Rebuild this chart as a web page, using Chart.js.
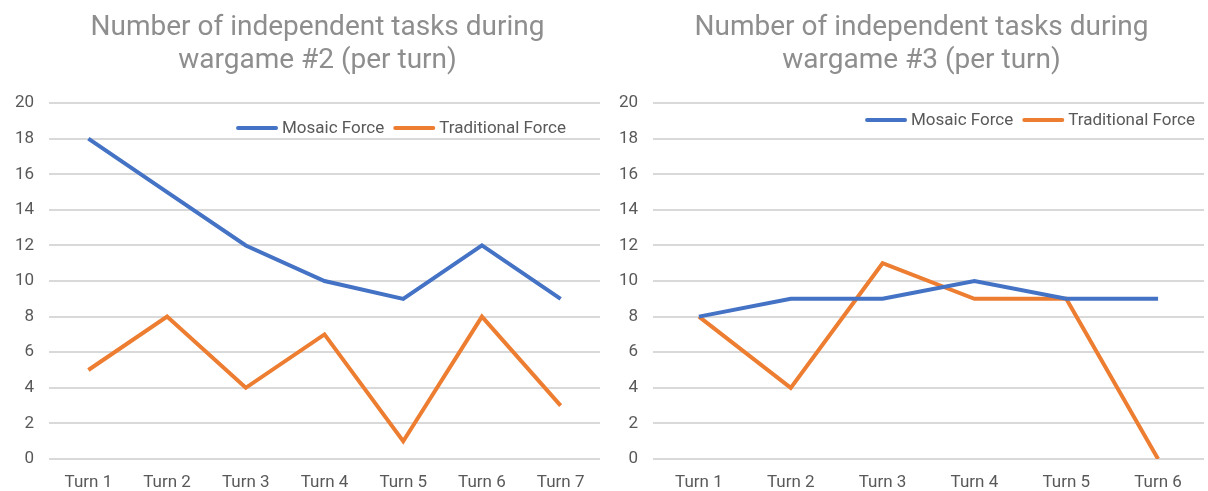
<!DOCTYPE html>
<html>
<head>
<meta charset="utf-8">
<script src="https://cdn.jsdelivr.net/npm/chart.js@4"></script>
<style>
  html, body { margin: 0; padding: 0; background: #fff; }
  .wrap { position: absolute; top: 0; width: 604px; height: 491px; }
  #w2 { left: 0; }
  #w3 { left: 604px; }
</style>
</head>
<body>
<div class="wrap" id="w2"><canvas id="chart2"></canvas></div>
<div class="wrap" id="w3"><canvas id="chart3"></canvas></div>
<script>
// wargame #2
const turns2 = ['Turn 1', 'Turn 2', 'Turn 3', 'Turn 4', 'Turn 5', 'Turn 6', 'Turn 7']
const mosaic2 = [18, 15, 12, 10, 9, 12, 9]
const traditional2 = [5, 8, 4, 7, 1, 8, 3]

// wargame #3
const turns3 = ['Turn 1', 'Turn 2', 'Turn 3', 'Turn 4', 'Turn 5', 'Turn 6']
const mosaic3 = [8, 9, 9, 10, 9, 9]
const traditional3 = [8, 4, 11, 9, 9, 0]

const yTicks = [0, 2, 4, 6, 8, 10, 12, 14, 16, 18, 20]

const BLUE = '#4472C4'
const ORANGE = '#ED7D31'
const FONT = 'Roboto, "Liberation Sans", sans-serif'

// legend drawn inside the plot area, right aligned, like the excel one
const insideLegend = {
  id: 'insideLegend',
  afterLayout(chart) {
    // excel centres the title over the plot area, not the whole canvas
    const tb = chart.titleBlock
    const area = chart.chartArea
    const shift = (area.left + area.right) / 2 - (tb.left + tb.right) / 2 - 7
    tb.left += shift
    tb.right += shift
  },
  afterDatasetsDraw(chart, args, opts) {
    const ctx = chart.ctx
    const area = chart.chartArea
    ctx.save()
    ctx.font = '17px ' + FONT
    ctx.textBaseline = 'middle'
    const items = chart.data.datasets.map(d => ({ text: d.label, color: d.borderColor }))
    const swatch = 42, gapText = 4, gapItem = 9
    let total = 0
    items.forEach((it, i) => {
      it.w = ctx.measureText(it.text).width
      total += swatch + gapText + it.w + (i ? gapItem : 0)
    })
    let x = area.right - opts.right - total
    const y = area.top + opts.top
    items.forEach(it => {
      ctx.strokeStyle = it.color
      ctx.lineWidth = 4
      ctx.lineCap = 'round'
      ctx.beginPath()
      ctx.moveTo(x + 2, y)
      ctx.lineTo(x + swatch - 2, y)
      ctx.stroke()
      ctx.fillStyle = '#595959'
      ctx.fillText(it.text, x + swatch + gapText, y + 1)
      x += swatch + gapText + it.w + gapItem
    })
    ctx.restore()
  }
}

function makeChart(id, title, labels, mosaic, traditional, legendPos) {
  return new Chart(document.getElementById(id), {
    type: 'line',
    plugins: [insideLegend],
    data: {
      labels: labels,
      datasets: [{
        label: 'Mosaic Force',
        data: mosaic,
        borderColor: BLUE,
        backgroundColor: BLUE,
        borderWidth: 4,
        pointRadius: 0,
        tension: 0
      }, {
        label: 'Traditional Force',
        data: traditional,
        borderColor: ORANGE,
        backgroundColor: ORANGE,
        borderWidth: 4,
        pointRadius: 0,
        tension: 0
      }]
    },
    options: {
      responsive: true,
      maintainAspectRatio: false,
      animation: false,
      layout: { padding: { left: 6, right: 4, top: 11, bottom: 0 } },
      plugins: {
        title: {
          display: true,
          text: title,
          color: '#8e8e8e',
          font: { family: FONT, size: 28, weight: 'normal', lineHeight: 1.18 },
          padding: { top: 0, bottom: 26 }
        },
        legend: { display: false },
        insideLegend: legendPos,
        tooltip: { enabled: false }
      },
      scales: {
        x: {
          offset: true,
          grid: { display: false, drawTicks: false },
          border: { display: false },
          afterFit: s => { s.height = 32 },
          ticks: { color: '#595959', font: { family: FONT, size: 17 }, padding: 14, maxRotation: 0, autoSkip: false }
        },
        y: {
          min: 0,
          max: 20,
          afterBuildTicks: s => { s.ticks = yTicks.map(v => ({ value: v })) },
          afterFit: s => { s.width = 43 },
          grid: { color: '#d9d9d9', lineWidth: 2, drawTicks: false },
          border: { display: false },
          ticks: { color: '#595959', font: { family: FONT, size: 17 }, padding: 15 }
        }
      }
    }
  })
}

makeChart('chart2', ['Number of independent tasks during', 'wargame #2 (per turn)'], turns2, mosaic2, traditional2, { right: 34, top: 25 })
makeChart('chart3', ['Number of independent tasks during', 'wargame #3 (per turn)'], turns3, mosaic3, traditional3, { right: 9, top: 17 })
</script>
</body>
</html>
